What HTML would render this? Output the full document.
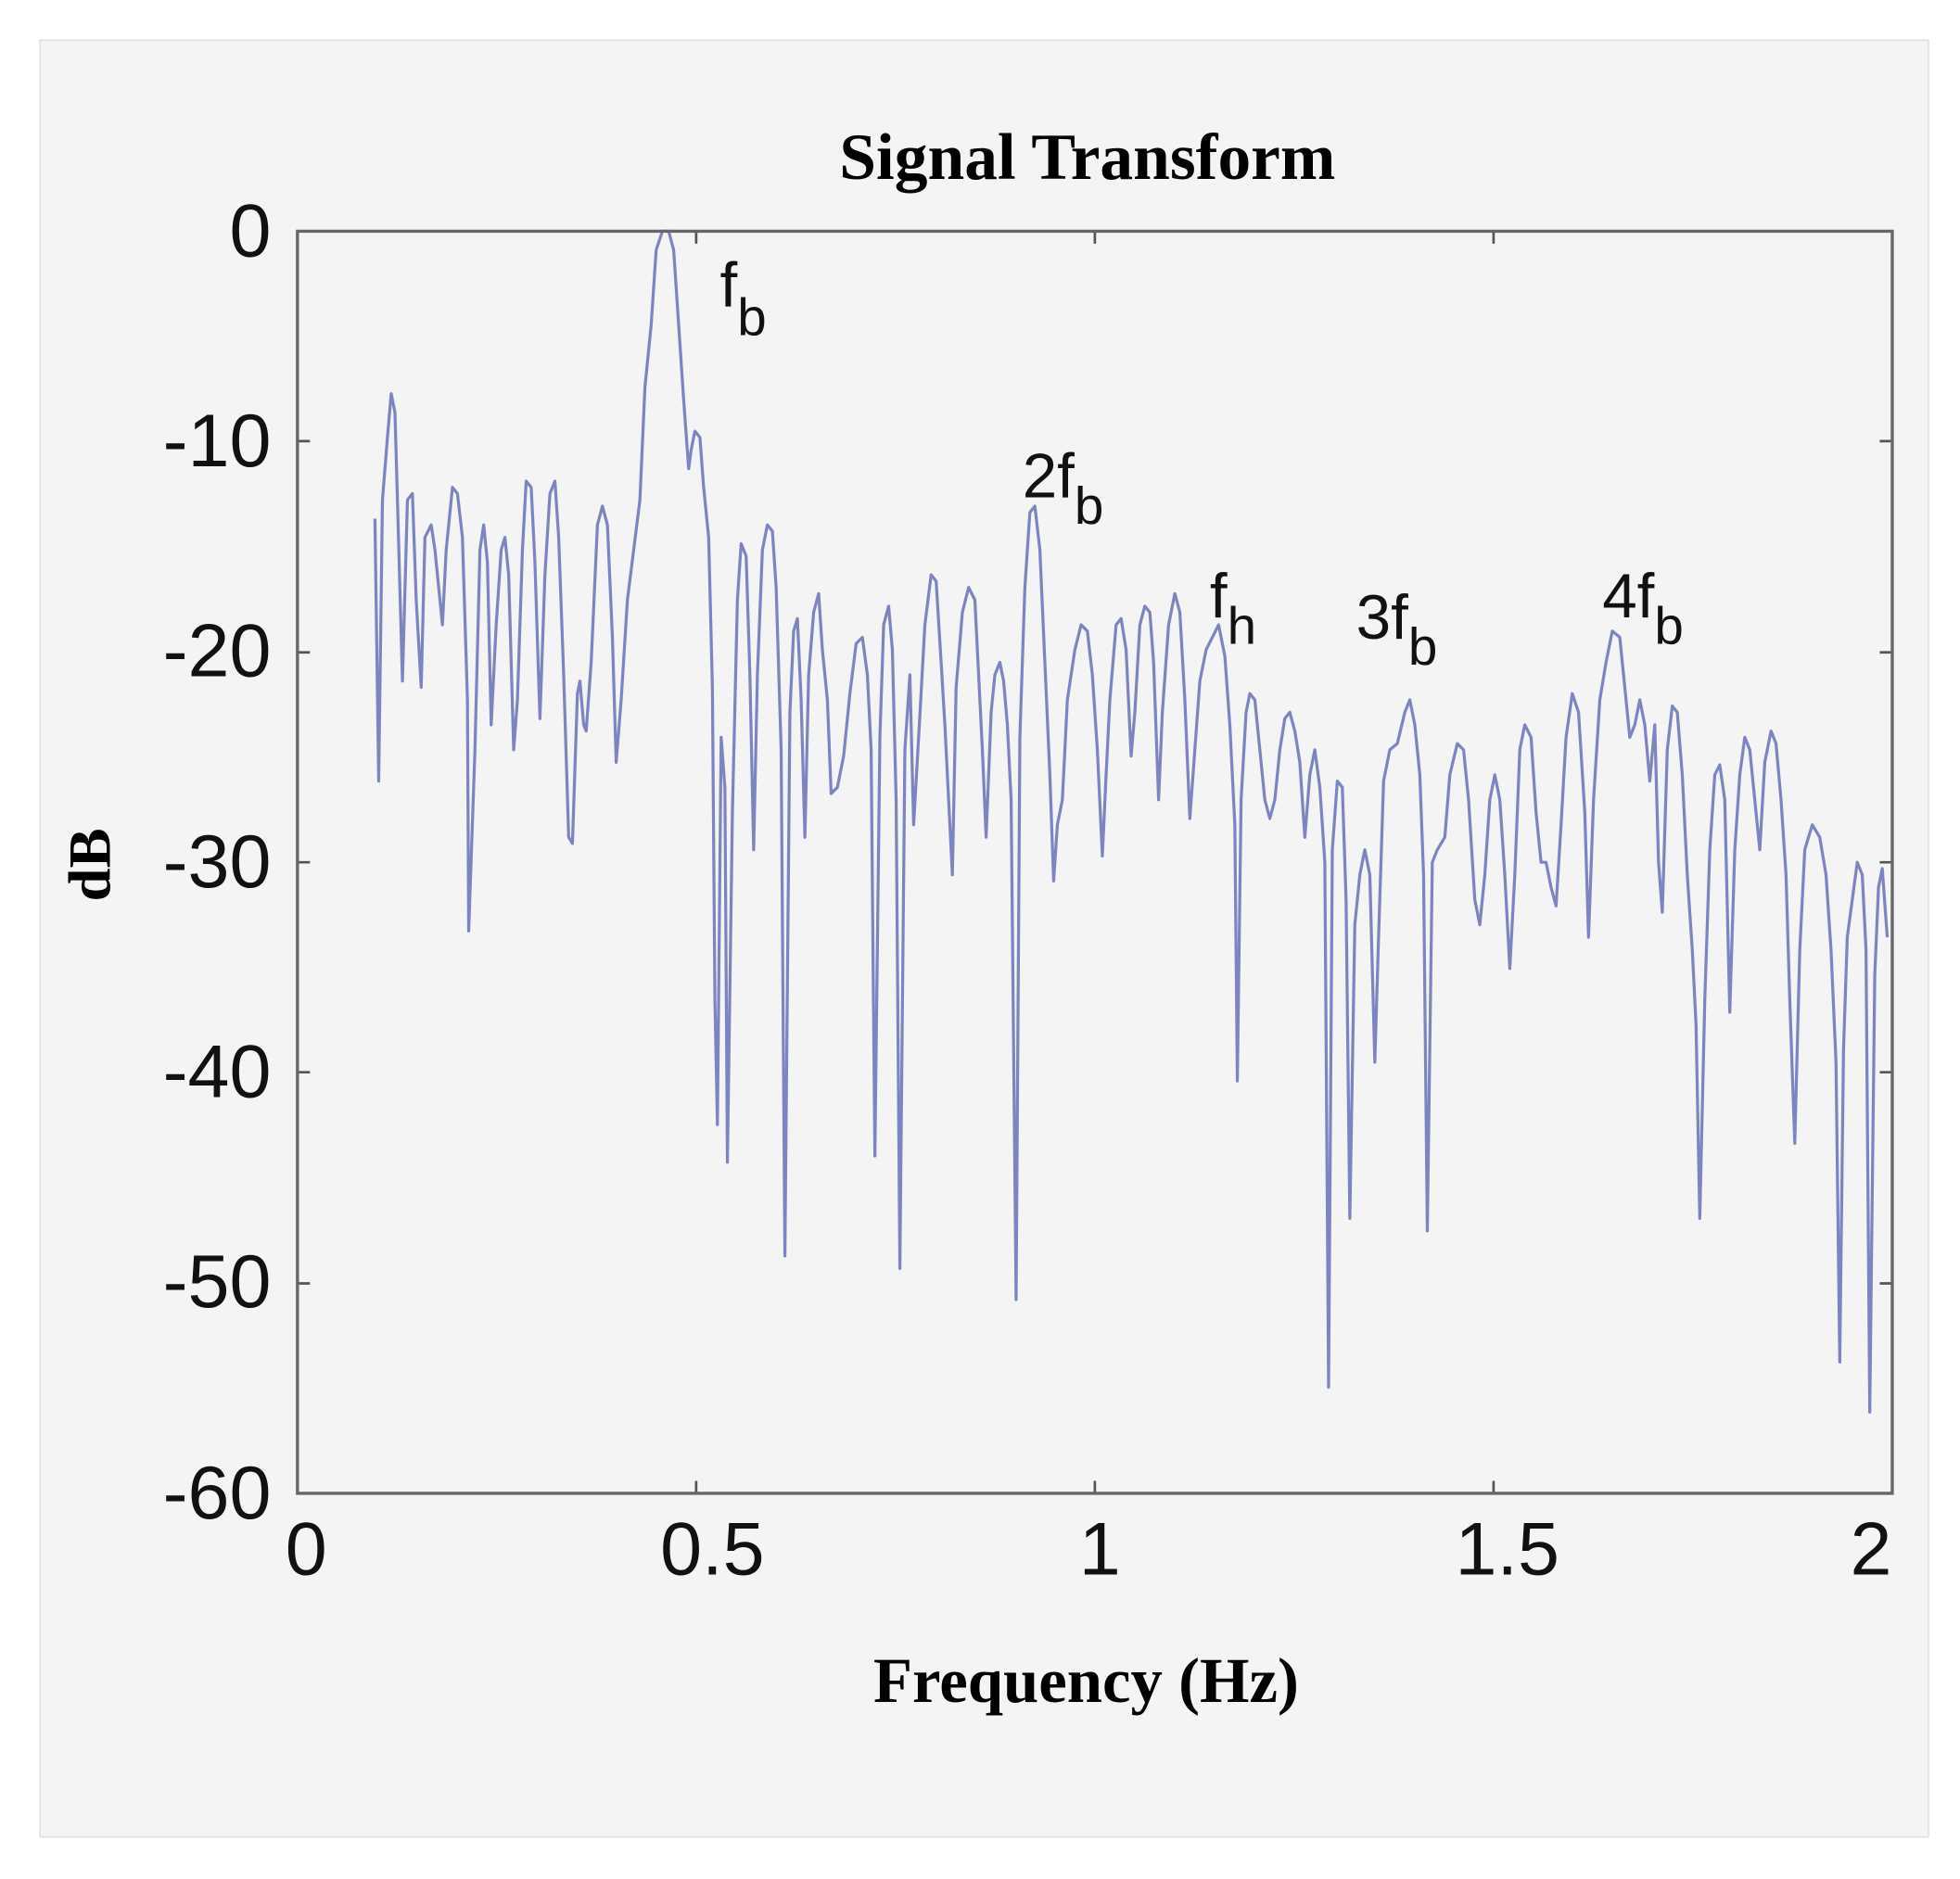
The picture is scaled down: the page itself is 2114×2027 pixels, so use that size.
<!DOCTYPE html>
<html><head><meta charset="utf-8"><style>
html,body{margin:0;padding:0;background:#fff;}
svg{display:block;}
</style></head><body>
<svg width="2114" height="2027" viewBox="0 0 1568.2 1503.6" xmlns="http://www.w3.org/2000/svg">
<rect x="0" y="0" width="1568.2" height="1503.6" fill="#ffffff"/>
<rect x="32" y="32" width="1511" height="1438" fill="#f4f4f4" stroke="#dcdcdc" stroke-width="1"/>
<text x="870" y="143" text-anchor="middle" font-family="Liberation Serif, serif" font-weight="bold" font-size="53">Signal Transform</text>
<text x="869" y="1362" text-anchor="middle" font-family="Liberation Serif, serif" font-weight="bold" font-size="51">Frequency (Hz)</text>
<text transform="translate(88,692) rotate(-90)" text-anchor="middle" font-family="Liberation Serif, serif" font-weight="bold" font-size="48">dB</text>
<g font-family="Liberation Sans, sans-serif" font-size="60" fill="#111" text-anchor="end">
<text x="217" y="205">0</text>
<text x="217" y="373">-10</text>
<text x="217" y="541">-20</text>
<text x="217" y="710">-30</text>
<text x="217" y="878">-40</text>
<text x="217" y="1046">-50</text>
<text x="217" y="1215">-60</text>
</g>
<g font-family="Liberation Sans, sans-serif" font-size="60" fill="#111" text-anchor="middle">
<text x="245" y="1260">0</text>
<text x="570" y="1260">0.5</text>
<text x="880" y="1260">1</text>
<text x="1206" y="1260">1.5</text>
<text x="1497" y="1260">2</text>
</g>
<g stroke="#555" stroke-width="2" fill="none">
<path d="M557 185v10M876 185v10M1195 185v10M557 1195v-10M876 1195v-10M1195 1195v-10"/>
<path d="M238 353h10M238 522h10M238 690h10M238 858h10M238 1027h10M1514 353h-10M1514 522h-10M1514 690h-10M1514 858h-10M1514 1027h-10"/>
</g>
<polyline fill="none" stroke="#4a55ab" stroke-opacity="0.7" stroke-width="2.4" stroke-linejoin="round" points="300,415 303,625 306,400 310,350 313,315 316,330 318,400 322,545 326,400 330,395 333,480 337,550 340,430 345,420 348,440 351,470 354,500 357,440 362,390 366,395 370,430 374,560 375,745 380,600 384,440 387,420 390,450 393,580 397,500 401,440 404,430 407,460 411,600 414,560 418,440 421,385 425,390 428,450 432,575 436,460 440,395 444,385 447,430 451,540 455,670 458,675 462,555 464,545 467,580 469,585 473,530 478,420 482,405 486,420 490,510 493,610 497,560 502,480 507,440 512,400 516,310 521,260 525,200 530,185 535,185 539,200 543,260 547,320 551,375 553,360 556,345 560,350 563,390 567,430 570,550 572,800 574,900 577,590 580,630 582,930 586,650 590,480 593,435 597,445 600,540 603,680 606,540 610,440 614,420 618,425 621,470 625,600 628,1005 632,570 635,505 638,495 641,560 644,670 647,540 651,490 655,475 658,520 662,560 665,635 670,630 675,605 680,555 685,515 690,510 694,540 697,600 700,925 704,590 707,500 711,485 714,520 717,640 720,1015 724,600 728,540 731,660 735,590 740,500 745,460 749,465 753,530 756,580 759,640 762,700 765,550 770,490 775,470 780,480 783,540 786,600 789,670 793,570 796,540 800,530 803,545 806,580 809,640 813,1040 816,590 820,470 824,410 828,405 832,440 836,530 840,620 843,705 846,660 850,640 854,560 860,520 865,500 870,505 874,540 878,600 882,685 885,620 888,560 893,500 897,495 901,520 905,605 908,570 912,500 916,485 920,490 923,530 927,640 930,570 935,500 940,475 944,490 948,560 952,655 956,600 960,545 965,520 970,510 975,500 980,525 984,580 988,660 990,865 993,640 997,570 1000,555 1004,560 1008,600 1012,640 1016,655 1020,640 1024,600 1028,575 1032,570 1036,585 1040,610 1044,670 1048,620 1052,600 1056,630 1060,690 1063,1110 1066,680 1070,625 1074,630 1077,720 1080,975 1084,740 1088,700 1092,680 1096,700 1100,850 1103,750 1107,625 1112,600 1118,595 1124,570 1128,560 1132,580 1136,620 1139,700 1142,985 1146,690 1150,680 1156,670 1160,620 1166,595 1171,600 1175,640 1180,720 1184,740 1188,700 1192,640 1196,620 1200,640 1204,700 1208,775 1212,700 1216,600 1220,580 1225,590 1229,650 1233,690 1237,690 1241,710 1245,725 1249,660 1253,590 1258,555 1263,570 1268,650 1271,750 1275,640 1280,560 1285,530 1290,505 1296,510 1300,550 1304,590 1308,580 1312,560 1316,580 1320,625 1324,580 1327,690 1330,730 1334,600 1338,565 1342,570 1346,620 1350,700 1354,760 1357,820 1360,975 1364,800 1368,680 1372,620 1376,612 1380,640 1384,810 1388,680 1392,620 1396,590 1400,600 1404,640 1408,680 1412,610 1417,585 1421,595 1425,640 1429,700 1432,800 1436,915 1440,760 1444,680 1450,660 1456,670 1461,700 1465,760 1469,850 1472,1090 1475,840 1478,750 1482,720 1486,690 1490,700 1493,760 1496,1130 1500,780 1503,710 1506,695 1510,750"/>
<rect x="238" y="185" width="1276" height="1010" fill="none" stroke="#666" stroke-width="2.5"/>
<g font-family="Liberation Sans, sans-serif" fill="#111">
<text x="576" y="245" font-size="50">f<tspan font-size="42" dy="23">b</tspan></text>
<text x="818" y="398" font-size="50">2f<tspan font-size="42" dy="21">b</tspan></text>
<text x="968" y="494" font-size="50">f<tspan font-size="42" dy="21">h</tspan></text>
<text x="1085" y="511" font-size="50">3f<tspan font-size="42" dy="21">b</tspan></text>
<text x="1282" y="494" font-size="50">4f<tspan font-size="42" dy="21">b</tspan></text>
</g>
</svg>
</body></html>
